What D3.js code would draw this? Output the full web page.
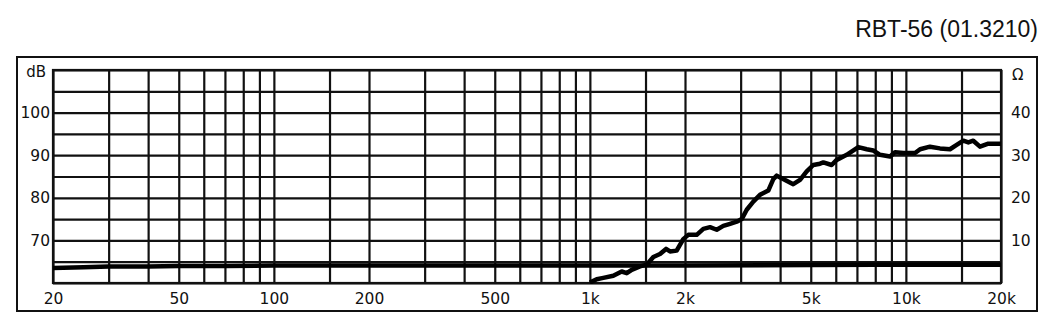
<!DOCTYPE html>
<html>
<head>
<meta charset="utf-8">
<script src="https://cdn.jsdelivr.net/npm/d3@7"></script>
<style>
  html, body { margin: 0; padding: 0; background: #fff; }
  svg { display: block; }
</style>
</head>
<body>
<div id="chart"></div>
<script>
'use strict';

// chart data
const title = "RBT-56 (01.3210)";

const splFreq = [1000, 1051, 1103, 1186, 1261, 1308, 1356, 1441, 1513, 1588, 1667, 1742, 1793, 1882,
    1975, 2048, 2178, 2286, 2400, 2520, 2644, 2777, 2916, 3024, 3136, 3290, 3454, 3670, 3806, 3902,
    4046, 4402, 4624, 4855, 5093, 5349, 5481, 5823, 6040, 6498, 7071, 7516, 7888, 8282, 8908, 9238,
    9817, 10690, 11090, 11920, 12820, 13790, 14480, 15200, 15760, 16340, 17160, 18230, 20000];
const splDb = [60.1, 60.9, 61.2, 61.7, 62.7, 62.3, 63.1, 63.9, 64.3, 66.1, 66.8, 68.0, 67.4, 67.6,
    70.3, 71.3, 71.3, 72.7, 73.1, 72.5, 73.4, 73.9, 74.4, 75.0, 77.2, 79.1, 80.7, 81.7, 84.4, 85.2,
    84.6, 83.2, 84.2, 86.2, 87.7, 88.0, 88.3, 87.7, 88.9, 90.1, 91.9, 91.4, 91.1, 90.1, 89.7, 90.7,
    90.5, 90.5, 91.4, 92.0, 91.6, 91.4, 92.4, 93.4, 93.0, 93.4, 92.0, 92.7, 92.7];

const impFreq = [20, 25, 30, 40, 50, 70, 100, 150, 200, 500, 1000, 2000, 5000, 8000, 10000, 15000, 20000];
const impOhm = [3.5, 3.7, 3.9, 3.9, 4.0, 4.0, 4.1, 4.1, 4.1, 4.1, 4.1, 4.1, 4.2, 4.3, 4.3, 4.3, 4.3];

const gridFreqs = [20, 30, 40, 50, 60, 70, 80, 90, 100, 150, 200, 300, 400, 500, 600, 700, 800, 900,
    1000, 1500, 2000, 3000, 4000, 5000, 6000, 7000, 8000, 9000, 10000, 15000, 20000];
const freqLabels = [20, 50, 100, 200, 500, 1000, 2000, 5000, 10000, 20000];
const dbGrid = [60, 65, 70, 75, 80, 85, 90, 95, 100, 105, 110];
const dbLabels = [70, 80, 90, 100];
const ohmLabels = [10, 20, 30, 40];

const W = 1047, H = 329;
const margin = {top: 70, right: 46, bottom: 46, left: 53};
const width = W - margin.left - margin.right;
const height = H - margin.top - margin.bottom;

const svg = d3.select("#chart").append("svg")
    .attr("width", W)
    .attr("height", H);

// outer frame
svg.append("rect")
    .attr("x", 17).attr("y", 57)
    .attr("width", 1020).attr("height", 254)
    .attr("fill", "none")
    .attr("stroke", "#111")
    .attr("stroke-width", 2);

svg.append("text")
    .attr("x", 1038).attr("y", 37)
    .attr("text-anchor", "end")
    .attr("font-family", "Liberation Sans, Arial, sans-serif")
    .attr("font-size", 23)
    .attr("fill", "#111")
    .text(title);

const plot = svg.append("g")
    .attr("transform", `translate(${margin.left},${margin.top})`);

const x = d3.scaleLog().domain([20, 20000]).range([0, width]);
const y = d3.scaleLinear().domain([60, 110]).range([height, 0]);
const yOhm = d3.scaleLinear().domain([0, 50]).range([height, 0]);

// grid
const gx = plot.append("g")
    .call(d3.axisBottom(x).tickValues(gridFreqs).tickSize(height).tickFormat(""));
gx.select(".domain").remove();

const gy = plot.append("g")
    .call(d3.axisLeft(y).tickValues(dbGrid).tickSize(-width).tickFormat(""));
gy.select(".domain").remove();

plot.selectAll(".tick line")
    .attr("stroke", "#111")
    .attr("stroke-width", 2.2);

plot.append("rect")
    .attr("width", width).attr("height", height)
    .attr("fill", "none")
    .attr("stroke", "#111")
    .attr("stroke-width", 2.2);

// labels
const fmtFreq = d => d >= 1000 ? (d / 1000) + "k" : d;
const labelFont = "DejaVu Sans, Verdana, sans-serif";

const ax = plot.append("g")
    .attr("transform", `translate(0,${height})`)
    .call(d3.axisBottom(x).tickValues(freqLabels).tickFormat(fmtFreq).tickSize(0).tickPadding(10));
ax.select(".domain").remove();

const ayL = plot.append("g")
    .call(d3.axisLeft(y).tickValues(dbLabels).tickSize(0).tickPadding(3));
ayL.select(".domain").remove();

const ayR = plot.append("g")
    .attr("transform", `translate(${width},0)`)
    .call(d3.axisRight(yOhm).tickValues(ohmLabels).tickSize(0).tickPadding(10));
ayR.select(".domain").remove();

plot.selectAll(".tick text")
    .attr("font-family", labelFont)
    .attr("font-size", 15.5)
    .attr("fill", "#111");

plot.append("text")
    .attr("x", -7).attr("y", 7)
    .attr("text-anchor", "end")
    .attr("font-family", labelFont)
    .attr("font-size", 15)
    .attr("fill", "#111")
    .text("dB");

plot.append("text")
    .attr("x", width + 11).attr("y", 10)
    .attr("font-family", labelFont)
    .attr("font-size", 15)
    .attr("fill", "#111")
    .text("Ω");

// curves
plot.append("clipPath").attr("id", "clip")
    .append("rect").attr("width", width).attr("height", height + 1);

const impLine = d3.line()
    .x((d, i) => x(impFreq[i]))
    .y(d => yOhm(d));

plot.append("path")
    .datum(impOhm)
    .attr("clip-path", "url(#clip)")
    .attr("fill", "none")
    .attr("stroke", "#000")
    .attr("stroke-width", 4.5)
    .attr("stroke-linejoin", "round")
    .attr("d", impLine);

const splLine = d3.line()
    .x((d, i) => x(splFreq[i]))
    .y(d => y(d));

plot.append("path")
    .datum(splDb)
    .attr("clip-path", "url(#clip)")
    .attr("fill", "none")
    .attr("stroke", "#000")
    .attr("stroke-width", 4.5)
    .attr("stroke-linejoin", "round")
    .attr("d", splLine);
</script>
</body>
</html>
